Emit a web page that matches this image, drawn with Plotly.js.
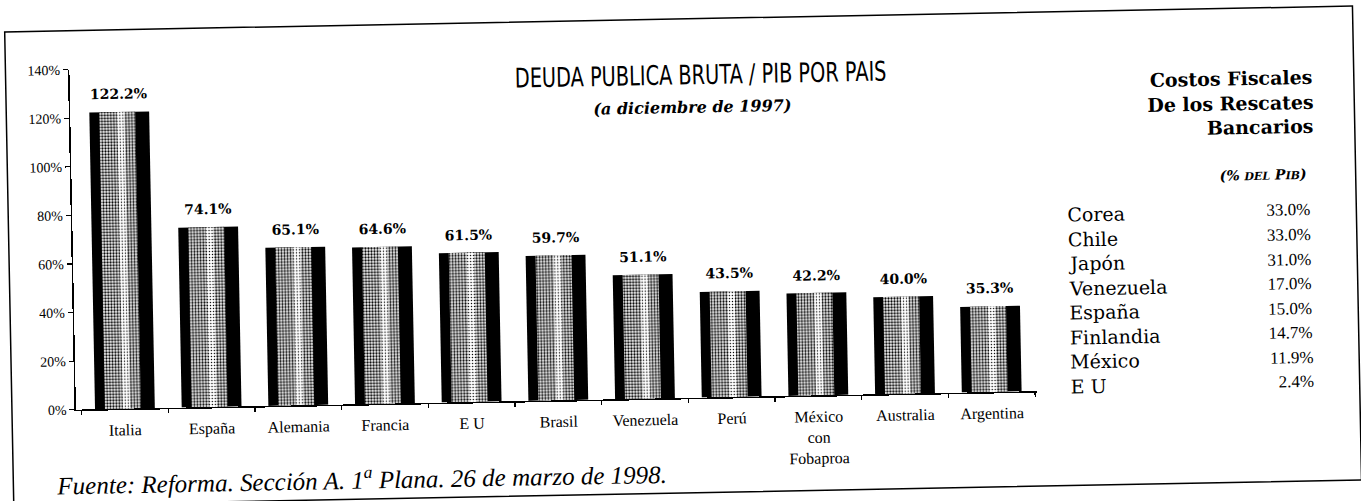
<!DOCTYPE html>
<html><head><meta charset="utf-8">
<script src="https://cdn.plot.ly/plotly-3.0.1.min.js"></script>
<style>
html,body{margin:0;padding:0;background:#fff;overflow:hidden;}
#chart{width:1361px;height:501px;transform:rotate(-1.1deg);transform-origin:680px 250px;}
</style></head><body><div id="chart"></div>
<script>
const countries = ['Italia','España','Alemania','Francia','E U','Brasil','Venezuela','Perú','México<br>con<br>Fobaproa','Australia','Argentina'];
const debtRatio = [122.2, 74.1, 65.1, 64.6, 61.5, 59.7, 51.1, 43.5, 42.2, 40.0, 35.3];
const valueLabels = ['122.2%','74.1%','65.1%','64.6%','61.5%','59.7%','51.1%','43.5%','42.2%','40.0%','35.3%'];
const yTickVals = [0, 20, 40, 60, 80, 100, 120, 140];
const yTickText = ['0%','20%','40%','60%','80%','100%','120%','140%'];
const costCountries = ['Corea','Chile','Japón','Venezuela','España','Finlandia','México','E U'];
const costValues = ['33.0%','33.0%','31.0%','17.0%','15.0%','14.7%','11.9%','2.4%'];

const W = 1361, H = 501, L = 73, R = 327, T = 58, B = 103;
const PW = W - L - R, PH = H - T - B;
const px = x => (x - L) / PW;
const py = y => (H - B - y) / PH;

const serif = 'Liberation Serif, Times New Roman, serif';
const dserif = 'DejaVu Serif, serif';

const traces = [
  {type:'bar', x:countries, y:debtRatio, width:0.69, offset:-0.345,
   marker:{color:'#000', line:{width:0}}, hoverinfo:'skip'},
  {type:'bar', x:countries, y:debtRatio, width:0.415, offset:-0.231,
   marker:{color:'#fff', line:{width:0},
     pattern:{shape:'.', fgcolor:'#000', bgcolor:'#fff', size:3, solidity:0.45}}, hoverinfo:'skip'},
  {type:'bar', x:countries, y:debtRatio, width:0.085, offset:-0.025,
   marker:{color:'#fff', line:{width:0},
     pattern:{shape:'.', fgcolor:'#000', bgcolor:'#fff', size:3, solidity:0.18}}, hoverinfo:'skip'}
];

const ann = [];
countries.forEach((c, i) => {
  ann.push({xref:'x', yref:'y', x:c, y:debtRatio[i], yshift:18, text:valueLabels[i],
    showarrow:false, xanchor:'center', yanchor:'middle',
    font:{family:dserif, size:14, color:'#000', weight:'bold'}});
});
ann.push({xref:'paper', yref:'paper', x:px(695), y:py(107), text:'<i><b>(a diciembre de 1997)</b></i>',
  showarrow:false, xanchor:'center', yanchor:'middle', font:{family:dserif, size:16, color:'#000'}});
['Costos Fiscales','De los Rescates','Bancarios'].forEach((t, i) => {
  ann.push({xref:'paper', yref:'paper', x:px(1318), y:py(89 + 24.5*i), text:'<b>'+t+'</b>',
    showarrow:false, xanchor:'right', yanchor:'middle', font:{family:dserif, size:19, color:'#000'}});
});
ann.push({xref:'paper', yref:'paper', x:px(1310), y:py(186),
  text:"<b><i>(% <span style='font-size:11px'>DEL</span> P<span style='font-size:11px'>IB</span>)</i></b>",
  showarrow:false, xanchor:'right', yanchor:'middle', font:{family:dserif, size:14, color:'#000'}});
costCountries.forEach((c, i) => {
  const yy = 222 + 24.5*i;
  ann.push({xref:'paper', yref:'paper', x:px(1066), y:py(yy), text:c, showarrow:false,
    xanchor:'left', yanchor:'middle', font:{family:dserif, size:19, color:'#000'}});
  ann.push({xref:'paper', yref:'paper', x:px(1313), y:py(yy), text:costValues[i], showarrow:false,
    xanchor:'right', yanchor:'middle', font:{family:serif, size:17, color:'#000'}});
});
ann.push({xref:'paper', yref:'paper', x:px(50), y:py(472),
  text:'<i>Fuente: Reforma. Sección A. 1<sup>a</sup> Plana. 26 de marzo de 1998.</i>',
  showarrow:false, xanchor:'left', yanchor:'middle', font:{family:serif, size:25, color:'#000'}});

const layout = {
  width:W, height:H, margin:{l:L, r:R, t:T, b:B},
  paper_bgcolor:'#fff', plot_bgcolor:'#fff', showlegend:false, barmode:'overlay',
  title:{text:'DEUDA PUBLICA BRUTA / PIB POR PAIS', xref:'container', yref:'container',
    x:704/W, y:1 - 75/H, xanchor:'center', yanchor:'middle',
    font:{family:'DejaVu Sans, sans-serif', size:27, color:'#000'}},
  xaxis:{type:'category', range:[-0.565, 10.52], showline:true, linecolor:'#000', linewidth:1.5,
    ticks:'outside', tickson:'boundaries', ticklen:4, tickcolor:'#000', tickwidth:1.2,
    ticklabelstandoff:6, showgrid:false, zeroline:false, fixedrange:true,
    tickfont:{family:serif, size:16, color:'#000'}},
  yaxis:{range:[0,140], tickvals:yTickVals, ticktext:yTickText, showline:true, linecolor:'#000', linewidth:1.5,
    ticks:'outside', ticklen:5, tickcolor:'#000', tickwidth:1.2, showgrid:false, zeroline:false, fixedrange:true,
    tickfont:{family:serif, size:14, color:'#000'}},
  shapes:[{type:'rect', xref:'paper', yref:'paper', x0:px(9), x1:px(1357), y0:py(493), y1:py(19),
    line:{color:'#000', width:1.5}, layer:'above'}],
  annotations:ann
};
Plotly.newPlot('chart', traces, layout, {staticPlot:true, displayModeBar:false}).then(() => {
  const t = document.querySelector('.gtitle');
  if (t) {
    const bb = t.getBBox();
    if (bb.width > 0) {
      const s = 372 / bb.width;
      const cx = bb.x + bb.width / 2;
      t.setAttribute('transform', 'translate(' + (cx * (1 - s)) + ',0) scale(' + s + ',1)');
    }
  }
});
</script></body></html>
